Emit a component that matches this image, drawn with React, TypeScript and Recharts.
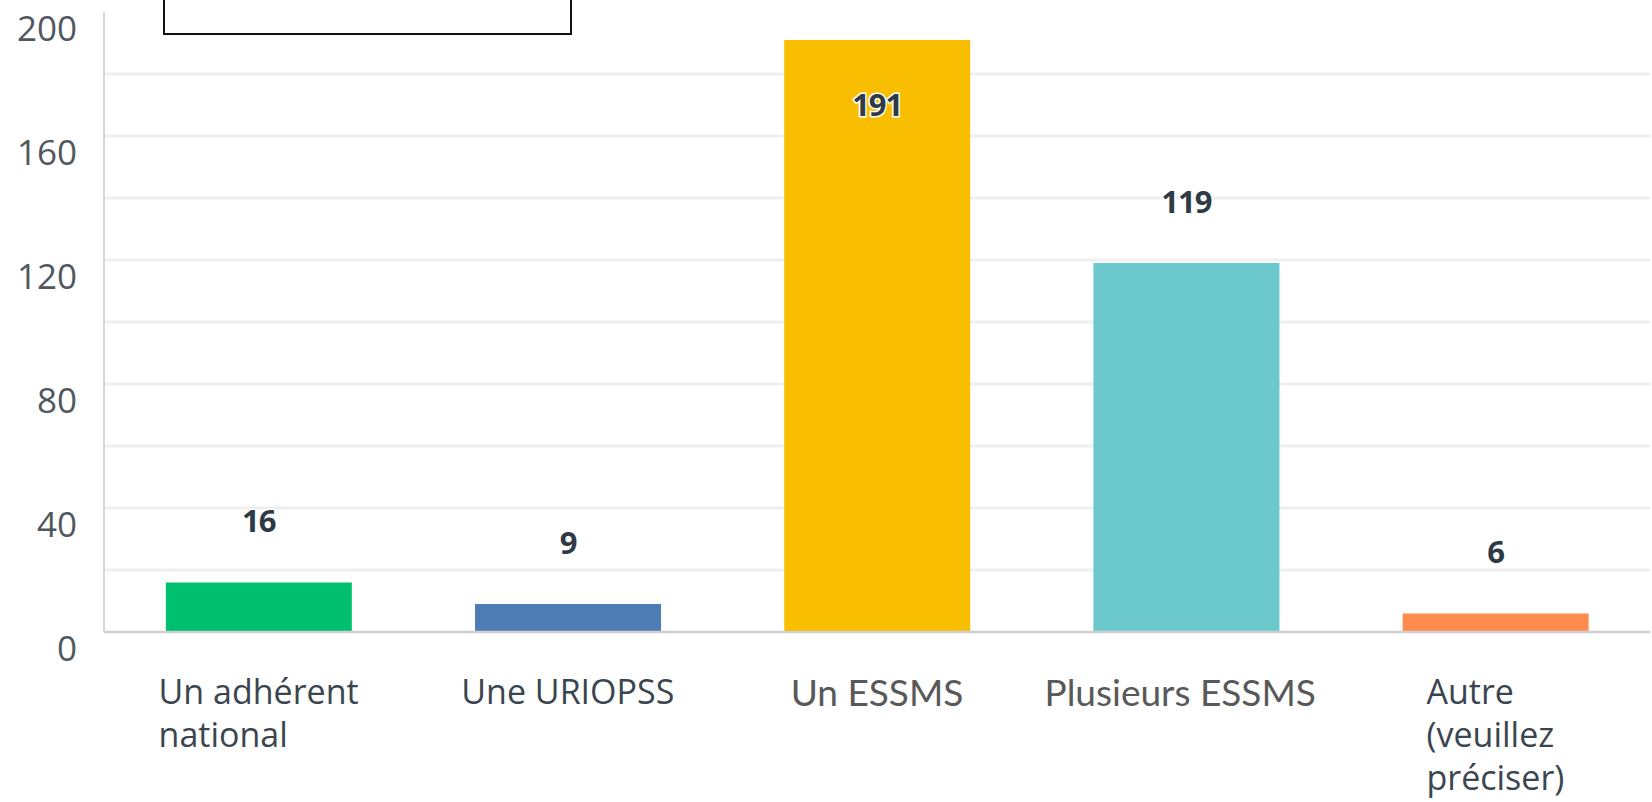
import React, { useLayoutEffect, useRef, useState } from "react";
import { BarChart, Bar, XAxis, YAxis, CartesianGrid, Cell, LabelList } from "recharts";

const categories = [
  "Un adhérent\nnational",
  "Une URIOPSS",
  "Un ESSMS",
  "Plusieurs ESSMS",
  "Autre\n(veuillez\npréciser)",
];
const values = [16, 9, 191, 119, 6];
const barColors = ["#00BF6F", "#507CB6", "#F9BE00", "#6BC8CD", "#FF8B4F"];
const yTickValues = [0, 20, 40, 60, 80, 100, 120, 140, 160, 180, 200];
const yLabelStep = 40;
const gridValues = [20, 40, 60, 80, 100, 120, 140, 160, 180];
const altFontCategories = ["Un ESSMS", "Plusieurs ESSMS"];

const data = categories.map((c, i) => ({ name: c, value: values[i] }));

const MAIN_FONT = "'Open Sans', 'Noto Sans', sans-serif";
const ALT_FONT = "Lato, 'Open Sans', sans-serif";

function XTick(props: any) {
  const { x, y, payload } = props;
  const ref = useRef<SVGTextElement | null>(null);
  const [w, setW] = useState(0);
  const label: string = String(payload.value);
  const lines = label.split("\n");
  const alt = altFontCategories.includes(label);
  useLayoutEffect(() => {
    if (ref.current) setW(ref.current.getBBox().width);
  }, [label]);
  const lineH = 43;
  const base = y + (alt ? 74 : 72);
  const shift = label === "Plusieurs ESSMS" ? -6 : 0;
  return (
    <text
      ref={ref}
      x={x - w / 2 + shift}
      y={base}
      textAnchor="start"
      fontFamily={alt ? ALT_FONT : MAIN_FONT}
      fontSize={alt ? 37 : 34}
      fill={alt ? "#595959" : "#3a4550"}
    >
      {lines.map((l, i) => (
        <tspan key={i} x={x - w / 2 + shift} y={base + i * lineH}>
          {l}
        </tspan>
      ))}
    </text>
  );
}

function YTick(props: any) {
  const { x, y, payload } = props;
  if (payload.value % yLabelStep !== 0) return null;
  return (
    <text
      x={x - 27}
      y={y + 29}
      textAnchor="end"
      fontFamily={MAIN_FONT}
      fontSize={35}
      fill="#50575e"
    >
      {payload.value}
    </text>
  );
}

function ValueLabel(props: any) {
  const { x, y, width, value } = props;
  const cx = x + width / 2;
  const above = y - 50;
  const inside = above < 30;
  const ty = inside ? y + 76 : above;
  return (
    <text
      x={cx}
      y={ty}
      textAnchor="middle"
      fontFamily={MAIN_FONT}
      fontWeight={700}
      fontSize={31}
      fill="#2e3a45"
      stroke="#ffffff"
      strokeWidth={3}
      paintOrder="stroke"
      letterSpacing={-1}
    >
      {value}
    </text>
  );
}

export default function App() {
  return (
    <div style={{ position: "absolute", left: 0, top: 0, width: 1652, height: 802, background: "#fff" }}>
      <BarChart
        width={1652}
        height={802}
        data={data}
        margin={{ top: 12, right: 2, left: 0, bottom: 0 }}
        barCategoryGap="20%"
      >
        <CartesianGrid
          vertical={false}
          horizontalValues={gridValues}
          stroke="#efefef"
          strokeWidth={3}
        />
        <XAxis
          dataKey="name"
          height={170}
          interval={0}
          tickLine={false}
          tickSize={0}
          tickMargin={0}
          axisLine={{ stroke: "#cfcfcf", strokeWidth: 2.5 }}
          tick={<XTick />}
        />
        <YAxis
          width={104}
          domain={[0, 200]}
          ticks={yTickValues}
          interval={0}
          tickLine={false}
          tickSize={0}
          tickMargin={0}
          axisLine={{ stroke: "#d6d6d6", strokeWidth: 2 }}
          tick={<YTick />}
        />
        <Bar dataKey="value" isAnimationActive={false}>
          {data.map((d, i) => (
            <Cell key={d.name} fill={barColors[i]} />
          ))}
          <LabelList dataKey="value" content={<ValueLabel />} />
        </Bar>
      </BarChart>
      <div
        style={{
          position: "absolute",
          left: 163,
          top: -10,
          width: 409,
          height: 45,
          border: "2.5px solid #111",
          boxSizing: "border-box",
          background: "#fff",
        }}
      />
    </div>
  );
}
